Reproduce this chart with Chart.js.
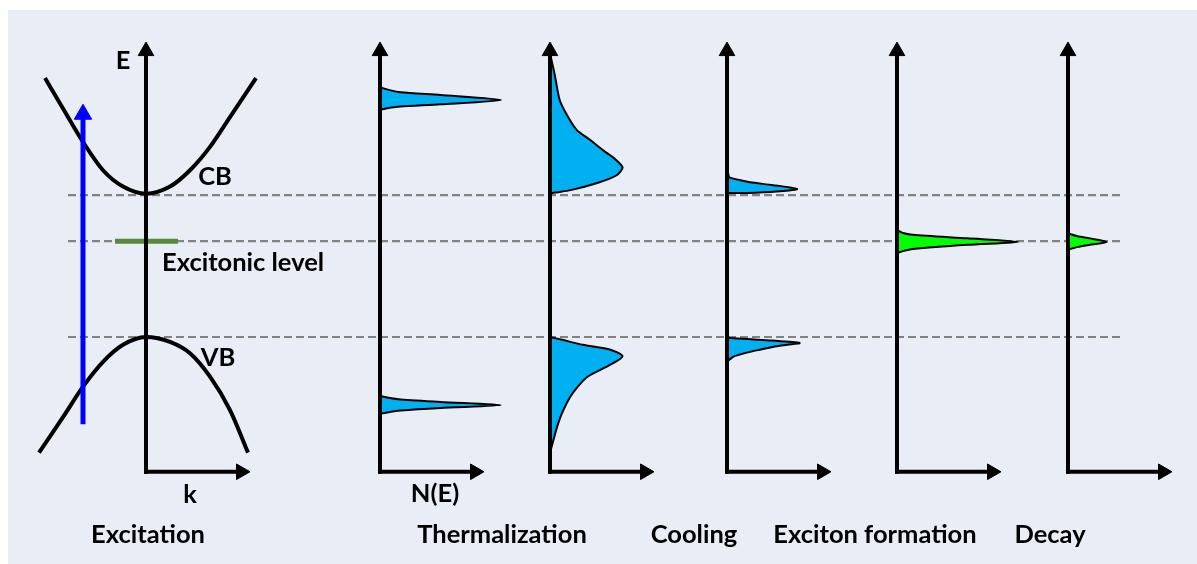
<!DOCTYPE html>
<html>
<head>
<meta charset="utf-8">
<script src="https://cdn.jsdelivr.net/npm/chart.js@4"></script>
<style>
  html, body { margin: 0; padding: 0; background: #ffffff; }
  #wrap { width: 1197px; height: 564px; }
</style>
</head>
<body>
<div id="wrap"><canvas id="diagram" width="1197" height="564"></canvas></div>
<script>
// energy levels (arbitrary units, VB top = 0, CB bottom = 2)
const levelNames = ['CB', 'Excitonic level', 'VB'];
const levelEnergy = [2.0, 1.35, 0.0];

// band dispersion E(k), k read relative to the E axis
const cbK = [-101, -83, -63, -43, -23, 0, 24, 44, 64, 84, 110];
const cbE = [3.65, 3.22, 2.75, 2.35, 2.12, 2.02, 2.12, 2.35, 2.68, 3.10, 3.65];
const vbK = [-107, -83, -63, -43, -23, 0, 24, 44, 64, 84, 102];
const vbE = [-1.63, -1.13, -0.70, -0.35, -0.11, 0, -0.07, -0.23, -0.56, -1.03, -1.63];

// pump photon (excitation arrow), energy range
const pumpE = [-1.23, 3.14];

// carrier distributions N(E), N in arbitrary units
const therm1UpperE = [3.52, 3.48, 3.45, 3.41, 3.34, 3.28, 3.25, 3.23, 3.20];
const therm1UpperN = [0, 0.08, 0.17, 0.5, 1.0, 0.5, 0.17, 0.08, 0];
const therm1LowerE = [-0.83, -0.86, -0.88, -0.915, -0.96, -1.0, -1.035, -1.056, -1.085];
const therm1LowerN = [0, 0.08, 0.17, 0.5, 1.0, 0.5, 0.17, 0.08, 0];

const therm2UpperE = [4.0, 3.69, 3.34, 3.13, 2.92, 2.78, 2.63, 2.52, 2.39, 2.28, 2.17, 2.07, 2.03, 2.01];
const therm2UpperN = [0, 0.04, 0.08, 0.14, 0.22, 0.33, 0.44, 0.53, 0.6, 0.55, 0.39, 0.17, 0.02, 0];
const therm2LowerE = [0, -0.04, -0.11, -0.18, -0.27, -0.39, -0.56, -0.70, -0.85, -1.06, -1.27, -1.45, -1.63];
const therm2LowerN = [0, 0.1, 0.27, 0.5, 0.6, 0.5, 0.31, 0.23, 0.165, 0.103, 0.058, 0.029, 0];

const coolUpperE = [2.38, 2.30, 2.25, 2.21, 2.18, 2.14, 2.085, 2.05, 2.03, 2.03];
const coolUpperN = [0, 0.01, 0.02, 0.11, 0.19, 0.38, 0.58, 0.41, 0.17, 0];
const coolLowerE = [-0.01, -0.03, -0.05, -0.085, -0.11, -0.14, -0.18, -0.21, -0.25, -0.28, -0.35];
const coolLowerN = [0, 0.17, 0.37, 0.6, 0.5, 0.38, 0.27, 0.19, 0.1, 0.05, 0];

const excitonE = [1.51, 1.465, 1.44, 1.39, 1.34, 1.30, 1.24, 1.21, 1.18];
const excitonN = [0, 0.05, 0.13, 0.58, 1.0, 0.58, 0.13, 0.05, 0];

const decayE = [1.465, 1.445, 1.42, 1.39, 1.34, 1.30, 1.27, 1.245, 1.225];
const decayN = [0, 0.03, 0.08, 0.18, 0.32, 0.18, 0.08, 0.03, 0];

// text
const stageNames = ['Excitation', 'Thermalization', 'Cooling', 'Exciton formation', 'Decay'];
const axisNames = ['E', 'k', 'N(E)'];

// ---- layout (x in canvas units, y in energy units) ----
const E_MIN = -3.2, E_MAX = 4.75;
const axisX = [146, 380, 550, 727, 897, 1068];
const AXIS_BOTTOM = -1.9;
const ARROW_TOP = 4.03;
const AXIS_LEN = 95;
const N_SCALE = 121;
const PUMP_X = 83;
const EXC_LINE = [115, 178];
const DASH_X = [68, 1122];
const stageLabelX = [148, 502, 694, 875, 1050];
const STAGE_LABEL_E = -2.79;

const BLUE = '#00b0f0';
const GREEN = '#00ff00';

const datasets = [];

// dashed reference levels
levelEnergy.forEach(e => {
  datasets.push({
    data: [{x: DASH_X[0], y: e}, {x: DASH_X[1], y: e}],
    borderColor: '#828282', borderWidth: 2.2, borderDash: [8, 4],
    pointRadius: 0, fill: false, order: 6
  });
});

function distribution(ax, energies, counts, color) {
  return {
    data: energies.map((e, i) => ({x: ax + counts[i] * N_SCALE, y: e})),
    borderColor: '#000', borderWidth: 2, backgroundColor: color,
    fill: 'shape', tension: 0.25, pointRadius: 0, order: 4
  };
}
datasets.push(distribution(axisX[1], therm1UpperE, therm1UpperN, BLUE));
datasets.push(distribution(axisX[1], therm1LowerE, therm1LowerN, BLUE));
datasets.push(distribution(axisX[2], therm2UpperE, therm2UpperN, BLUE));
datasets.push(distribution(axisX[2], therm2LowerE, therm2LowerN, BLUE));
datasets.push(distribution(axisX[3], coolUpperE, coolUpperN, BLUE));
datasets.push(distribution(axisX[3], coolLowerE, coolLowerN, BLUE));
datasets.push(distribution(axisX[4], excitonE, excitonN, GREEN));
datasets.push(distribution(axisX[5], decayE, decayN, GREEN));

// bands
[[cbK, cbE], [vbK, vbE]].forEach(([ks, es]) => {
  datasets.push({
    data: ks.map((k, i) => ({x: axisX[0] + k, y: es[i]})),
    borderColor: '#000', borderWidth: 4, cubicInterpolationMode: 'monotone',
    pointRadius: 0, fill: false, order: 3
  });
});

// excitonic level bar
datasets.push({
  data: [{x: EXC_LINE[0], y: levelEnergy[1]}, {x: EXC_LINE[1], y: levelEnergy[1]}],
  borderColor: '#578a3a', borderWidth: 5, pointRadius: 0, fill: false, order: 2
});

// axes with arrow heads
axisX.forEach(ax => {
  datasets.push({
    data: [{x: ax, y: AXIS_BOTTOM}, {x: ax, y: ARROW_TOP}],
    borderColor: '#000', borderWidth: 4, borderCapStyle: 'square',
    pointRadius: [0, 9], pointStyle: 'triangle', pointRotation: 0,
    pointBackgroundColor: '#000', pointBorderColor: '#000', pointBorderWidth: 1,
    fill: false, order: 1
  });
  datasets.push({
    data: [{x: ax, y: AXIS_BOTTOM}, {x: ax + AXIS_LEN, y: AXIS_BOTTOM}],
    borderColor: '#000', borderWidth: 4, borderCapStyle: 'square',
    pointRadius: [0, 9], pointStyle: 'triangle', pointRotation: 90,
    pointBackgroundColor: '#000', pointBorderColor: '#000', pointBorderWidth: 1,
    fill: false, order: 1
  });
});

// pump arrow
datasets.push({
  data: [{x: PUMP_X, y: pumpE[0]}, {x: PUMP_X, y: pumpE[1]}],
  borderColor: '#0000ff', borderWidth: 5,
  pointRadius: [0, 10], pointStyle: 'triangle', pointRotation: 0,
  pointBackgroundColor: '#0000ff', pointBorderColor: '#0000ff', pointBorderWidth: 1,
  fill: false, order: 0
});

const panelBackground = {
  id: 'panelBackground',
  beforeDraw(chart) {
    const ctx = chart.ctx;
    ctx.save();
    ctx.fillStyle = '#ffffff';
    ctx.fillRect(0, 0, chart.width, chart.height);
    ctx.fillStyle = '#e8edf6';
    ctx.fillRect(8, 10, chart.width - 8, chart.height - 10);
    ctx.restore();
  }
};

const diagramText = {
  id: 'diagramText',
  afterDatasetsDraw(chart) {
    const {ctx, scales: {x, y}} = chart;
    ctx.save();
    ctx.fillStyle = '#000';
    ctx.font = 'bold 25.5px Lato';
    ctx.textBaseline = 'middle';
    ctx.textAlign = 'center';
    ctx.fillText(axisNames[0], x.getPixelForValue(123), y.getPixelForValue(3.9));
    ctx.fillText(axisNames[1], x.getPixelForValue(190), y.getPixelForValue(-2.23));
    ctx.fillText(axisNames[2], x.getPixelForValue(435), y.getPixelForValue(-2.21));
    ctx.fillText(levelNames[0], x.getPixelForValue(215), y.getPixelForValue(2.26));
    ctx.fillText(levelNames[2], x.getPixelForValue(218), y.getPixelForValue(-0.3));
    stageNames.forEach((s, i) => {
      ctx.fillText(s, x.getPixelForValue(stageLabelX[i]), y.getPixelForValue(STAGE_LABEL_E));
    });
    ctx.textAlign = 'left';
    ctx.fillText(levelNames[1], x.getPixelForValue(162), y.getPixelForValue(1.04));
    ctx.restore();
  }
};

new Chart(document.getElementById('diagram'), {
  type: 'line',
  data: { datasets: datasets },
  options: {
    responsive: false,
    animation: false,
    layout: { padding: 0, autoPadding: false },
    plugins: { legend: { display: false }, tooltip: { enabled: false } },
    scales: {
      x: { type: 'linear', min: 0, max: 1197, display: false },
      y: { type: 'linear', min: E_MIN, max: E_MAX, display: false }
    }
  },
  plugins: [panelBackground, diagramText]
});
</script>
</body>
</html>
